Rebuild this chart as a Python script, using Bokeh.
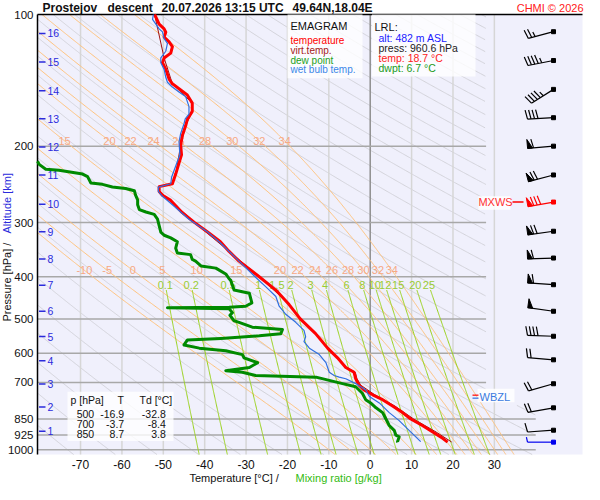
import numpy as np
from bokeh.plotting import figure
from bokeh.models import Range1d, Label
from bokeh.embed import file_html
from bokeh.resources import INLINE
from bokeh.core.properties import value

FONT = "Liberation Sans"

# ======================= DATA =======================
temp_p = [99.5, 104.7, 107.4, 109.3, 112.1, 115.0, 118.0, 122.1, 125.3, 128.5, 133.1, 140.1,
          143.7, 147.4, 152.5, 159.2, 166.3, 173.5, 179.5, 188.9, 198.8, 209.3, 220.3, 231.9,
          244.1, 247.9, 254.3, 259.6, 266.3, 284.6, 299.6, 315.4, 332.0, 349.5, 367.9, 397.2,
          429.0, 463.3, 500.0, 540.5, 583.7, 614.4, 646.8, 663.5, 686.7, 710.3, 728.7, 747.6,
          767.0, 793.8, 821.6, 849.9, 879.6, 910.4, 941.8, 960.6]
temp_T = [-52.1, -51.0, -49.8, -49.4, -49.8, -48.6, -47.8, -48.2, -49.8, -50.2, -49.4, -48.6,
          -47.8, -46.2, -44.2, -43.0, -43.0, -44.2, -44.6, -45.4, -45.8, -45.6, -46.3, -47.0,
          -47.8, -51.0, -51.0, -50.2, -48.3, -45.4, -42.5, -39.3, -36.2, -34.1, -31.7, -27.2,
          -22.8, -19.6, -16.9, -13.2, -10.3, -7.9, -5.9, -3.9, -3.5, -2.7, -1.5, 0.6,
          3.0, 5.4, 7.8, 9.8, 12.6, 15.1, 17.5, 18.7]

virt_p = [99.5, 125.3, 143.7, 159.2, 166.3, 179.5, 198.8, 231.9, 244.1, 247.9, 254.3, 266.3,
          299.6, 349.5, 397.2, 463.3, 500.0, 540.5, 583.7, 646.8, 663.5, 686.7, 710.3, 747.6,
          793.8, 849.9, 910.4, 960.6]
virt_T = [-52.1, -49.8, -47.8, -43.0, -43.0, -44.6, -45.8, -47.0, -47.8, -51.0, -51.0, -48.3,
          -42.5, -34.1, -27.1, -19.5, -16.8, -13.1, -10.1, -5.7, -3.6, -3.2, -2.3, 1.1,
          6.0, 10.5, 15.9, 19.7]

dewp_p = [216.6, 220.3, 226.0, 227.2, 231.9, 235.1, 243.2, 244.9, 248.3, 250.4, 253.4,
          259.2, 265.9, 272.8, 279.9, 283.6, 287.1, 294.6, 304.8, 315.4, 320.8, 325.3, 332.0,
          343.6, 352.6, 355.5, 364.7, 367.9, 377.4, 381.9, 393.8, 404.0, 407.6, 418.2, 429.0,
          436.4, 459.3, 467.4, 469.8, 471.3, 473.5, 483.5, 490.3, 504.9, 509.0, 522.2, 528.7,
          540.5, 546.9, 554.5, 559.4, 573.9, 583.7, 591.9, 604.1, 614.4, 630.4, 646.8, 657.8,
          663.5, 674.9, 680.8, 692.4, 704.5, 716.5, 741.5, 767.0, 780.5, 800.8, 821.6, 849.9,
          879.6, 902.5, 926.0, 934.1, 958.4, 960.6]
dewp_T = [-80.4, -80.0, -78.4, -75.2, -69.5, -68.3, -67.5, -64.7, -62.3, -59.1, -57.0,
          -56.7, -56.2, -56.2, -55.8, -54.2, -52.2, -51.4, -51.0, -50.6, -49.8, -48.2, -46.6,
          -47.0, -46.6, -43.4, -43.0, -42.2, -40.9, -37.3, -34.9, -34.1, -33.7, -33.3, -32.9,
          -29.2, -28.6, -30.1, -34.1, -49.0, -34.1, -33.3, -33.9, -32.9, -31.7, -28.5, -21.2,
          -21.6, -26.8, -36.1, -44.2, -45.0, -41.3, -34.9, -30.9, -30.5, -27.2, -29.2, -34.9,
          -30.9, -27.7, -13.1, -9.9, -6.7, -3.5, -1.9, -1.1, 0.1, 1.4, 3.0, 3.8,
          4.6, 5.8, 6.2, 7.0, 6.6, 6.7]

wetb_p = [99.5, 102.1, 107.4, 109.1, 113.1, 116.0, 120.9, 125.3, 128.5, 133.1, 138.8, 142.5,
          146.2, 150.0, 153.8, 162.0, 168.7, 173.1, 177.6, 187.0, 195.5, 209.3, 222.2, 235.9,
          244.1, 248.6, 254.3, 260.9, 272.8, 294.6, 315.4, 332.0, 361.7, 400.7, 421.8, 444.0,
          467.4, 487.8, 509.0, 531.4, 549.7, 564.0, 583.7, 604.1, 630.4, 663.5, 674.9, 680.8,
          686.7, 704.5, 728.7, 754.2, 780.5, 821.6, 857.3, 902.5, 958.4]
wetb_T = [-52.4, -52.6, -51.0, -50.2, -49.8, -49.0, -49.4, -50.6, -50.6, -49.8, -49.4, -49.0,
          -47.8, -46.2, -44.6, -43.8, -43.8, -44.7, -45.0, -45.8, -46.2, -46.0, -47.0, -48.0,
          -48.2, -51.2, -51.2, -50.2, -47.8, -43.8, -39.3, -36.5, -32.5, -27.7, -25.2, -22.8,
          -22.0, -20.4, -18.0, -16.0, -15.6, -16.0, -14.7, -12.3, -10.7, -9.9, -8.7, -7.5,
          -5.9, -3.5, -1.1, -0.2, 2.2, 4.6, 7.0, 9.4, 12.2]

press_ticks = [100, 200, 300, 400, 500, 600, 700, 850, 925, 1000]
upper_levels = [200, 300, 400, 500, 600, 700]
lower_levels = [850, 925, 1000]
temp_ticks = [-70, -60, -50, -40, -30, -20, -10, 0, 10, 20, 30]
vgrid_T = [-70, -60, -50, -40, -30, -20, -10, 10, 20, 30]

alt_km = [str(k) for k in range(1, 17)]
alt_p = [907, 798, 706, 624, 549, 480, 418, 364, 315, 272, 233, 201, 173, 149, 128, 110]

mix_ratios = [0.1, 0.2, 0.5, 1, 1.5, 2, 3, 4, 6, 8, 10, 12, 15, 20, 25]
thetaw_lines = [-10, -5, 0, 5, 10, 15, 20, 22, 24, 26, 28, 30, 32, 34]
theta_dry = list(range(190, 620, 10))

barb_p = [109, 127, 148, 172, 200, 233, 269, 314, 362, 417, 480, 548, 621, 705, 801, 902, 961]
barb_dir = [255, 259, 238, 267, 265, 255, 260, 262, 268, 274, 278, 272, 275, 254, 260, 266, 270]
barb_kt = [25, 45, 45, 40, 60, 70, 80, 70, 60, 60, 50, 40, 20, 20, 20, 10, 5]
mxws_index = 6
wbzl_p = 755

table_p = ["500", "700", "850"]
table_T = ["-16.9", "-3.7", "8.7"]
table_Td = ["-32.8", "-8.4", "3.8"]

# ======================= GEOMETRY =======================
W, H = 584, 484
FL, FR, FT, FB = 37, 582, 14, 454          # diagram area inside the canvas (px)
X0, X1 = -80.4, 51.3
P_TOP, P_BOT = 99.5, 1026.0
LT, LB = np.log10(P_TOP), np.log10(P_BOT)
XPX = (X1 - X0) / (FR - FL)
YPX = (LB - LT) / (FB - FT)


def tx(fx):
    return X0 + (fx - FL) * XPX


def py(fy):
    return 10 ** (LT + (fy - FT) * YPX)


def rx(page_x):
    return tx(page_x - 8)


def ry(page_y):
    return py(FT + (page_y - 15) * (FB - FT) / 455.0)


def tmax(pp):
    return np.where(np.asarray(pp) < 790, 28.0, 40.0)


def clip(T, pp):
    T = np.asarray(T, dtype=float)
    return np.where((T >= X0) & (T <= tmax(pp)), T, np.nan)


p = figure(width=W, height=H, x_range=Range1d(tx(0), tx(W)), y_range=Range1d(py(H), py(0)),
           y_axis_type="log", x_axis_location=None, y_axis_location=None,
           output_backend="svg", toolbar_location=None, min_border=0)
p.background_fill_color = "white"
p.border_fill_color = "white"
p.outline_line_color = None
p.grid.visible = False

# diagram background
p.quad(left=[X0], right=[X1], top=[P_TOP], bottom=[P_BOT], fill_color="#f0f0fc",
       line_color=None)

# ---------------- background diagram lines ----------------
pg = np.geomspace(P_TOP, P_BOT, 700)
dry_xs, dry_ys = [], []
for th in theta_dry:
    T = clip(th * (pg / 1000.0) ** 0.2857 - 273.15, pg)
    if np.all(np.isnan(T)):
        continue
    dry_xs.append(T)
    dry_ys.append(pg)
p.multi_line(dry_xs, dry_ys, line_color="#d3d3da", line_width=1)

p.segment(x0=vgrid_T, y0=[P_TOP] * len(vgrid_T), x1=vgrid_T, y1=[P_BOT] * len(vgrid_T),
          line_color="#d6d6d6", line_width=1.5)
p.segment(x0=[0], y0=[P_TOP], x1=[0], y1=[P_BOT], line_color="#8f8f8f", line_width=1.5)
p.segment(x0=[X0] * len(upper_levels), y0=upper_levels, x1=[28] * len(upper_levels),
          y1=upper_levels, line_color="#a8a8a8", line_width=1.5)
p.segment(x0=[X0] * len(lower_levels), y0=lower_levels, x1=[40] * len(lower_levels),
          y1=lower_levels, line_color="#a8a8a8", line_width=1.5)

# pseudo-adiabats
Rd, Cp, Lv, EPS = 287.04, 1005.7, 2.501e6, 0.622


def dTdlnp(Tk, lnp):
    pp = np.exp(lnp)
    tc = Tk - 273.15
    es = 6.112 * np.exp(17.67 * tc / (tc + 243.5))
    rs = EPS * es / (pp - es)
    return (Rd * Tk + Lv * rs) / (Cp + Lv * Lv * rs * EPS / (Rd * Tk * Tk))


def integrate(T0, lnp0, lnp1, n):
    h = (lnp1 - lnp0) / n
    T, lp = T0, lnp0
    Ts, ps = [T], [lp]
    for _ in range(n):
        k1 = dTdlnp(T, lp)
        k2 = dTdlnp(T + h * k1 / 2, lp + h / 2)
        k3 = dTdlnp(T + h * k2 / 2, lp + h / 2)
        k4 = dTdlnp(T + h * k3, lp + h)
        T += h * (k1 + 2 * k2 + 2 * k3 + k4) / 6
        lp += h
        Ts.append(T)
        ps.append(lp)
    return np.array(Ts), np.exp(np.array(ps))


moist_xs, moist_ys, moist_lines = [], [], {}
for thw in thetaw_lines:
    Tu, pu = integrate(thw + 273.15, np.log(1000.0), np.log(P_TOP), 500)
    Td_, pd_ = integrate(thw + 273.15, np.log(1000.0), np.log(P_BOT), 10)
    Tall = np.concatenate([Tu[::-1], Td_[1:]]) - 273.15
    pall = np.concatenate([pu[::-1], pd_[1:]])
    moist_lines[thw] = (Tall, pall)
    moist_xs.append(clip(Tall, pall))
    moist_ys.append(pall)
p.multi_line(moist_xs, moist_ys, line_color="#ffc27c", line_width=1)

# mixing-ratio lines
pm = np.geomspace(ry(300), P_BOT, 150)
mix_xs, mix_ys = [], []
for w in mix_ratios:
    e = w * pm / (622.0 + w)
    a = np.log(e / 6.112)
    mix_xs.append(clip(243.5 * a / (17.67 - a), pm))
    mix_ys.append(pm)
p.multi_line(mix_xs, mix_ys, line_color="#9ad21e", line_width=1)

p_mlab = ry(295)
mlx = []
for w in mix_ratios:
    e = w * p_mlab / (622.0 + w)
    a = np.log(e / 6.112)
    mlx.append(243.5 * a / (17.67 - a))
p.text(x=mlx, y=[p_mlab] * len(mlx), text=[f"{w:g}" for w in mix_ratios],
       text_font=value(FONT), text_font_size="11px", text_color="#99cc33",
       text_align="center", text_baseline="middle")

row_top, row_bot = ry(145.7), ry(279.5)
lab_x, lab_y, lab_t = [], [], []
for thw in thetaw_lines:
    Tall, pall = moist_lines[thw]
    order = np.argsort(pall)
    for row, minw in ((row_top, 15), (row_bot, -100)):
        if thw < minw:
            continue
        Tr = float(np.interp(np.log(row), np.log(pall[order]), Tall[order]))
        if X0 + 2 < Tr < 28:
            lab_x.append(Tr)
            lab_y.append(row)
            lab_t.append(str(thw))
p.text(x=lab_x, y=lab_y, text=lab_t, text_font=value(FONT), text_font_size="11px",
       text_color="#f6a985", text_align="center", text_baseline="middle")

# frame lines (left axis line and top line)
p.segment(x0=[X0, X0], y0=[P_TOP, P_TOP], x1=[X0, X1], y1=[P_BOT, P_TOP],
          line_color="black", line_width=1.5)

# axis tick labels
p.text(x=[tx(33)] * len(press_ticks), y=press_ticks, text=[str(v) for v in press_ticks],
       text_font=value(FONT), text_font_size="11.5px", text_color="#111111",
       text_align="right", text_baseline="middle")
p.text(x=temp_ticks, y=[py(464)] * len(temp_ticks), text=[str(v) for v in temp_ticks],
       text_font=value(FONT), text_font_size="12px", text_color="#111111",
       text_align="center", text_baseline="middle")

# ---------------- altitude scale ----------------
p.segment(x0=[rx(46.5)] * len(alt_p), y0=alt_p, x1=[rx(53)] * len(alt_p), y1=alt_p,
          line_color="#2b2bdc", line_width=1.5)
p.text(x=[rx(55)] * len(alt_p), y=alt_p, text=alt_km, text_font=value(FONT),
       text_font_size="10.5px", text_color="#2b2bdc", text_align="left",
       text_baseline="middle")

# ---------------- profiles ----------------
p.line(virt_T, virt_p, line_color="#a01010", line_width=1)
p.line(dewp_T, dewp_p, line_color="#008a00", line_width=3, line_join="round")
p.line(temp_T, temp_p, line_color="#ff0000", line_width=3, line_join="round")
p.line(wetb_T, wetb_p, line_color="#2f6fe0", line_width=1.2, line_join="round")

# ---------------- wind barbs ----------------
base_T = rx(561)


def off(pb, dx, dy):
    return base_T + dx * XPX, 10 ** (np.log10(pb) + dy * YPX)


barb_colors = ["black"] * len(barb_p)
barb_colors[mxws_index] = "#ff0000"
barb_colors[-1] = "#0000ee"
seg_xs, seg_ys, seg_c, pen_xs, pen_ys, pen_c = [], [], [], [], [], []
for pb, d, s, c in zip(barb_p, barb_dir, barb_kt, barb_colors):
    r = np.radians(d)
    ux, uy = np.sin(r), -np.cos(r)
    fx, fy = -uy, ux
    L = 26.0
    ex, ey = ux * L, uy * L
    xa0, ya0 = off(pb, 0, 0)
    xa1, ya1 = off(pb, ex, ey)
    seg_xs.append([xa0, xa1]); seg_ys.append([ya0, ya1]); seg_c.append(c)
    n50 = s // 50
    n10 = (s - 50 * n50) // 10
    n5 = ((s - 50 * n50) % 10) // 5
    pos = 0.0
    for _ in range(n50):
        ax, ay = ex - ux * pos, ey - uy * pos
        pts = [(ax, ay), (ax + fx * 9, ay + fy * 9), (ax - ux * 5, ay - uy * 5)]
        xy = [off(pb, a, b) for a, b in pts]
        pen_xs.append([q[0] for q in xy]); pen_ys.append([q[1] for q in xy]); pen_c.append(c)
        pos += 6.0
    for k, ln in [(n10, 9.0), (n5, 5.0)]:
        for _ in range(k):
            ax, ay = ex - ux * pos, ey - uy * pos
            bx, by = ax + fx * ln + ux * ln * 0.22, ay + fy * ln + uy * ln * 0.22
            q0, q1 = off(pb, ax, ay), off(pb, bx, by)
            seg_xs.append([q0[0], q1[0]]); seg_ys.append([q0[1], q1[1]]); seg_c.append(c)
            pos += 3.5
p.multi_line(seg_xs, seg_ys, line_color=seg_c, line_width=1.2)
p.patches(pen_xs, pen_ys, fill_color=pen_c, line_color=pen_c, line_width=1)
p.scatter([base_T] * len(barb_p), barb_p, marker="square", size=4, color=barb_colors)

# MXWS marker
mx_p = barb_p[mxws_index]
p.quad(left=[rx(486)], right=[rx(518)], top=[ry(203)], bottom=[ry(217)],
       fill_color="white", fill_alpha=0.85, line_color=None)
p.segment(x0=[rx(520)], y0=[mx_p], x1=[rx(531)], y1=[mx_p], line_color="#ff0000",
          line_width=1.5)

# WBZL marker
p.quad(left=[rx(485)], right=[rx(522)], top=[ry(402)], bottom=[ry(416)],
       fill_color="white", fill_alpha=0.85, line_color=None)
wb_up = 10 ** (np.log10(wbzl_p) - 1.5 * YPX)
wb_dn = 10 ** (np.log10(wbzl_p) + 1.5 * YPX)
p.segment(x0=[rx(480)], y0=[wb_up], x1=[rx(486)], y1=[wb_up], line_color="#ff0000",
          line_width=1.2)
p.segment(x0=[rx(480)], y0=[wb_dn], x1=[rx(486)], y1=[wb_dn], line_color="#2f6fe0",
          line_width=1.2)

# ---------------- boxes ----------------
p.quad(left=[rx(295), rx(379.5), rx(75)], right=[rx(370), rx(483), rx(181)],
       top=[ry(15), ry(15), ry(405)], bottom=[ry(81), ry(79), ry(456)],
       fill_color="white", fill_alpha=0.8, line_color=None)


def lab(x, y, s, color="#000000", size=11, align="left", baseline="middle", bold=False,
        angle=0.0):
    p.add_layout(Label(x=x, y=y, text=s, text_color=color, text_font=FONT,
                       text_font_size=f"{size}px", text_align=align, text_baseline=baseline,
                       text_font_style="bold" if bold else "normal", angle=angle))


lab(rx(503), mx_p, "MXWS", "#ff3030", 11, align="center")
lab(rx(487), wbzl_p, "WBZL", "#3a7ae0", 11)

lab(rx(298), ry(27), "EMAGRAM", "#111111", 11)
lab(rx(298), ry(42.3), "temperature", "#ff0000", 10)
lab(rx(298), ry(52.3), "virt.temp.", "#a52020", 10)
lab(rx(298), ry(62.3), "dew point", "#22a022", 10)
lab(rx(298), ry(72.3), "wet bulb temp.", "#3a86e8", 10)

lab(rx(382), ry(27.5), "LRL:", "#111111", 11)
lab(rx(386), ry(39.7), "alt: 482 m ASL", "#1a1aff", 10.5)
lab(rx(386), ry(50), "press: 960.6 hPa", "#222222", 10.5)
lab(rx(386), ry(60), "temp: 18.7 °C", "#ff2020", 10.5)
lab(rx(386), ry(70), "dwpt: 6.7 °C", "#1a9a1a", 10.5)

lab(rx(78), ry(413.3), "p [hPa]", "#111111", 10.5)
lab(rx(125), ry(413.3), "T", "#111111", 10.5)
lab(rx(147), ry(413.3), "Td [°C]", "#111111", 10.5)
rows_y = [ry(428.3), ry(438.3), ry(448.3)]
for col, xr in ((table_p, 101.7), (table_T, 131.7), (table_Td, 173.3)):
    p.text(x=[rx(xr)] * 3, y=rows_y, text=col, text_font=value(FONT),
           text_font_size="10.5px", text_color="#111111", text_align="right",
           text_baseline="middle")

# ---------------- titles ----------------
ty = py(7)
lab(tx(42), ty, "Prostejov", "#111111", 12, bold=True)
lab(tx(107), ty, "descent", "#111111", 12, bold=True)
lab(tx(161), ty, "20.07.2026 13:15 UTC", "#111111", 12, bold=True)
lab(tx(292), ty, "49.64N,18.04E", "#111111", 12, bold=True)
lab(tx(583), ty, "CHMI © 2026", "#ff2020", 11, align="right")

lab(tx(189), py(477), "Temperature [°C]  /", "#111111", 11)
lab(tx(295), py(477), "Mixing ratio [g/kg]", "#33bb11", 11)
lab(tx(6), py(321), "Pressure [hPa]  /", "#111111", 11, angle=np.pi / 2)
lab(tx(6), py(233), "Altitude [km]", "#2b2bdc", 11, angle=np.pi / 2)

open("out.html", "w").write(file_html(p, INLINE))
